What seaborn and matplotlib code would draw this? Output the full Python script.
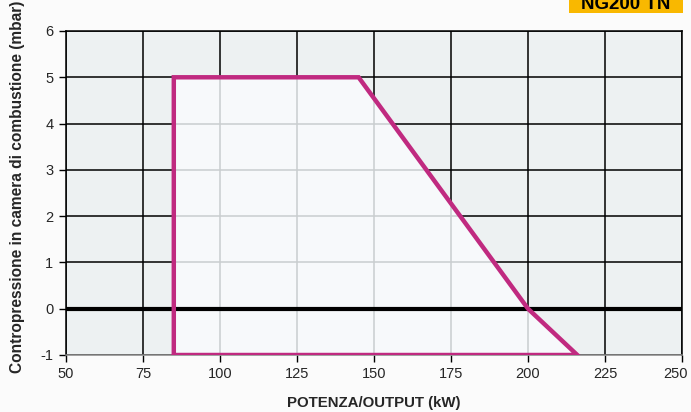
import matplotlib
matplotlib.use("Agg")
import matplotlib.pyplot as plt
import matplotlib.patches as mpatches
import matplotlib.transforms as mtrans
import seaborn as sns
import numpy as np
import pandas as pd

# data
env_x = [85, 85, 145, 200, 216, 85]
env_y = [-1, 5, 5, 0, -1, -1]
xticks = [50, 75, 100, 125, 150, 175, 200, 225, 250]
yticks = [-1, 0, 1, 2, 3, 4, 5, 6]
title_box = "NG200 TN"
xlabel = "POTENZA/OUTPUT (kW)"
ylabel = "Contropressione in camera di combustione (mbar)"

sns.set_theme(style="white")
plt.rcParams['font.family'] = ['Liberation Sans', 'DejaVu Sans']

W, H = 691, 412
fig = plt.figure(figsize=(W/100, H/100), dpi=100)
fig.patch.set_facecolor("#fbfbfb")
ax = fig.add_axes([66/W, 1-355/H, (682-66)/W, (355-31)/H])
ax.set_facecolor("#edf1f2")
ax.set_xlim(50, 250)
ax.set_ylim(-1, 6)

# black grid
for xv in xticks:
    ax.axvline(xv, color="black", lw=1.1, zorder=1)
for yv in yticks:
    ax.axhline(yv, color="black", lw=1.1, zorder=1)

# envelope fill
poly = ax.fill(env_x, env_y, facecolor="#f7f9fb", edgecolor="none", zorder=2)[0]
# gray grid inside envelope
for xv in xticks:
    l = ax.axvline(xv, color="#c9cdcf", lw=1.1, zorder=3)
    l.set_clip_path(poly)
for yv in yticks:
    l = ax.axhline(yv, color="#c9cdcf", lw=1.1, zorder=3)
    l.set_clip_path(poly)

# zero line
ax.axhline(0, color="black", lw=3, zorder=4)

df = pd.DataFrame({"x": env_x, "y": env_y})
sns.lineplot(data=df, x="x", y="y", sort=False, estimator=None, color="#c02a80",
             lw=3.2, ax=ax, zorder=5, solid_joinstyle="miter")

for s in ax.spines.values():
    s.set_color("black")
    s.set_linewidth(1.1)
ax.spines["bottom"].set_color("#888888")

ax.set_xticks(xticks)
ax.set_yticks(yticks)
ax.set_xticklabels([str(v) for v in xticks], fontsize=10.5)
ax.set_yticklabels([str(v) for v in yticks], fontsize=10.5)
ax.tick_params(axis="both", length=5, width=1, color="black", direction="out",
               bottom=True, left=True, pad=4)
# keep the last x tick label inside the figure, as in the reference
last = ax.get_xticklabels()[-1]
last.set_transform(last.get_transform() + mtrans.ScaledTranslation(-6/100, 0, fig.dpi_scale_trans))

ax.set_xlabel("")
ax.set_ylabel("")
fig.text(374/W, 1-403/H, xlabel, fontsize=10.8, fontweight="bold", ha="center", va="center")
fig.text(18/W, 1-187/H, ylabel, fontsize=11.2, fontweight="bold", ha="center", va="center",
         rotation=90)

# title box (clipped at top edge as in reference)
fig.patches.append(mpatches.Rectangle((569/W, 1-13/H), (683-569)/W, 13/H + 0.01,
                                      transform=fig.transFigure, facecolor="#f9b800",
                                      edgecolor="none"))
fig.text(626/W, 1-9/H, title_box, fontsize=13.5, fontweight="bold", ha="center",
         va="baseline", color="black")

fig.savefig("out.png", dpi=100, facecolor=fig.get_facecolor())
